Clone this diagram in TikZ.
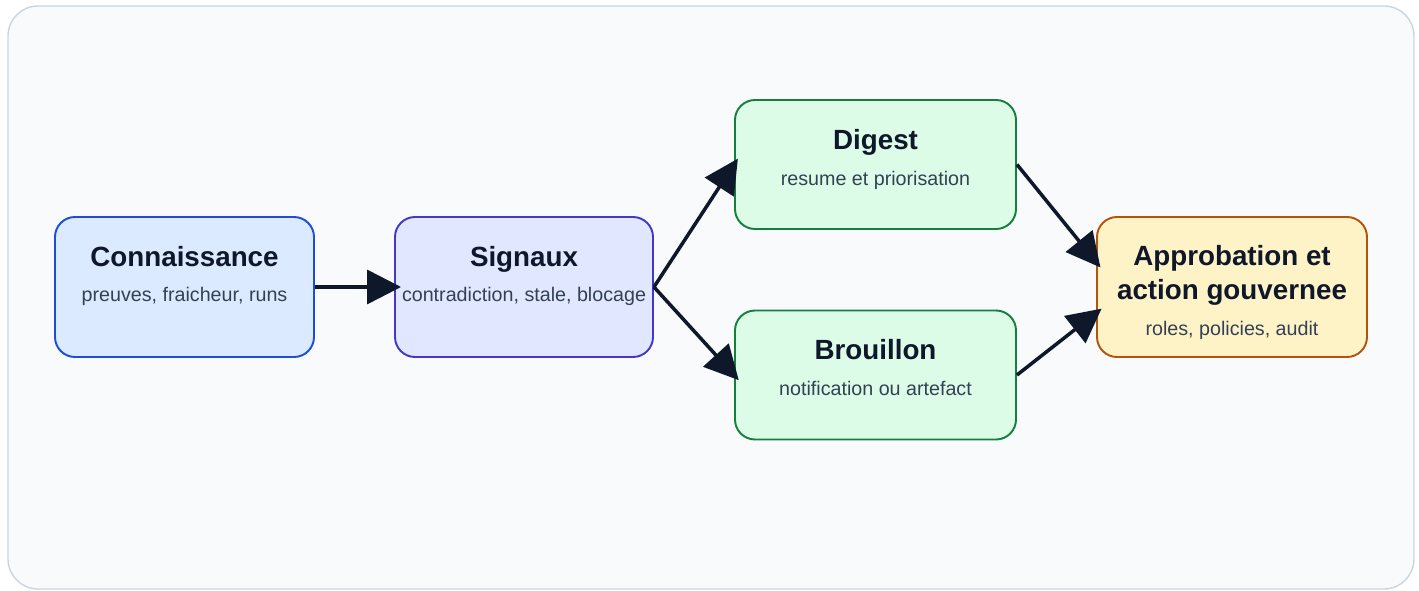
\documentclass[tikz,border=0pt]{standalone}
\usepackage{fontspec}
\setmainfont{Liberation Sans}
\usepackage{tikz}
\usetikzlibrary{calc}
\usetikzlibrary{arrows.meta}
\usetikzlibrary{positioning}
\definecolor{bgcol}{HTML}{F8FAFC}
\definecolor{framecol}{HTML}{CBD5E1}
\definecolor{titlecol}{HTML}{0F172A}
\definecolor{subcol}{HTML}{334155}
\definecolor{arrowcol}{HTML}{0F172A}
\definecolor{blueline}{HTML}{1D4ED8}
\definecolor{bluefill}{HTML}{DBEAFE}
\definecolor{indigoline}{HTML}{4338CA}
\definecolor{indigofill}{HTML}{E0E7FF}
\definecolor{greenline}{HTML}{15803D}
\definecolor{greenfill}{HTML}{DCFCE7}
\definecolor{amberline}{HTML}{B45309}
\definecolor{amberfill}{HTML}{FEF3C7}

\begin{document}
\begin{tikzpicture}[
BoxBase/.style={rounded corners=0.4cm, line width=1.1pt, minimum height=2.8cm, inner sep=0pt},
BlueBox/.style={BoxBase, draw=blueline, fill=bluefill, minimum width=5.18cm},
IndigoBox/.style={BoxBase, draw=indigoline, fill=indigofill, minimum width=5.16cm},
GreenBox/.style={BoxBase, draw=greenline, fill=greenfill, minimum width=5.62cm, minimum height=2.58cm},
AmberBox/.style={BoxBase, draw=amberline, fill=amberfill, minimum width=5.4cm},
Title/.style={anchor=base, font=\bfseries\fontsize{15.8}{19}\selectfont, text=titlecol},
Sub/.style={anchor=base, font=\fontsize{11.2}{13}\selectfont, text=subcol},
MyArrows/.style={-{Triangle[length=6.8mm, width=6.8mm]}, line width=2pt, draw=arrowcol, shorten >=-0.14cm}
]
\useasboundingbox (0,0) rectangle (28.38,11.8);

% background panel
\draw[fill=bgcol, draw=framecol, line width=0.8pt, rounded corners=0.6cm] (0.16,0.02) rectangle (28.28,11.68);

% centres of the boxes
\coordinate (K) at (3.69,6.06);
\coordinate (S) at (10.48,6.06);
\coordinate (D) at (17.51,8.51);
\coordinate (B) at (17.51,4.30);
\coordinate (A) at (24.64,6.06);

\node[BlueBox] (know) at (K) {};
\node[Title] (knowT) at ($(know.north)+(0,-1.0)$) {Connaissance};
\node[Sub] (knowS) at ($(know.north)+(0,-1.7)$) {preuves, fraicheur, runs};

\node[IndigoBox] (sig) at (S) {};
\node[Title] (sigT) at ($(sig.north)+(0,-1.0)$) {Signaux};
\node[Sub] (sigS) at ($(sig.north)+(0,-1.7)$) {contradiction, stale, blocage};

\node[GreenBox] (dig) at (D) {};
\node[Title] (digT) at ($(dig.north)+(0,-1.0)$) {Digest};
\node[Sub] (digS) at ($(dig.north)+(0,-1.72)$) {resume et priorisation};

\node[GreenBox] (brou) at (B) {};
\node[Title] (brouT) at ($(brou.north)+(0,-1.0)$) {Brouillon};
\node[Sub] (brouS) at ($(brou.north)+(0,-1.72)$) {notification ou artefact};

\node[AmberBox] (appr) at (A) {};
\node[Title] (apprT) at ($(appr.north)+(0,-0.98)$) {Approbation et};
\node[Title] (apprU) at ($(appr.north)+(0,-1.66)$) {action gouvernee};
\node[Sub] (apprS) at ($(appr.north)+(0,-2.38)$) {roles, policies, audit};

% arrows
\draw[MyArrows] (know.east) -- (sig.west);
\draw[MyArrows] (sig.east) -- (dig.west);
\draw[MyArrows] (sig.east) -- (brou.west);
\draw[MyArrows] (dig.east) -- ([yshift=0.5cm]appr.west);
\draw[MyArrows] (brou.east) -- ([yshift=-0.52cm]appr.west);

\end{tikzpicture}
\end{document}
